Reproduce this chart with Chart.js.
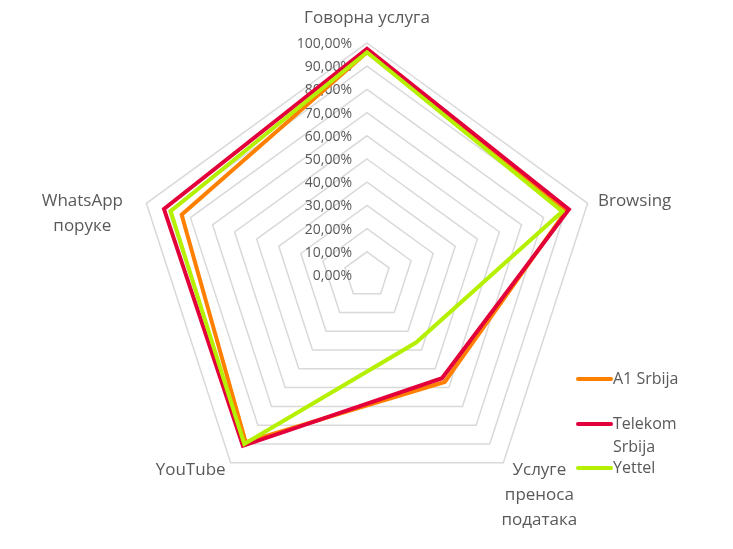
<!DOCTYPE html>
<html>
<head>
<meta charset="utf-8">
<script src="https://cdn.jsdelivr.net/npm/chart.js@4.4.1/dist/chart.umd.min.js"></script>
<style>
  html, body { margin: 0; padding: 0; background: #ffffff; }
  #wrap { width: 733px; height: 549px; }
</style>
</head>
<body>
<div id="wrap"><canvas id="myChart" width="733" height="549"></canvas></div>
<script>
// categories (multi-line labels as in the original)
var categories = [
  ["Говорна услуга"],
  ["Browsing"],
  ["Услуге", "преноса", "података"],
  ["YouTube"],
  ["WhatsApp", "поруке"]
];

// series values, percent
var a1Values = [96, 90.5, 57, 89, 84];
var telekomValues = [97.5, 91.5, 55, 91, 92];
var yettelValues = [96, 88.5, 36, 90, 89];

var seriesNames = ["A1 Srbija", "Telekom Srbija", "Yettel"];

// tick labels 0,00% .. 100,00%
var tickValues = [0, 10, 20, 30, 40, 50, 60, 70, 80, 90, 100];

window.onload = function() {
  var textColor = "#595959";
  var fontFamily = "'Open Sans', 'DejaVu Sans', sans-serif";
  var colors = ["#FF8000", "#E3003A", "#B4F000"];

  // where each category label sits, relative to its outer vertex
  var labelOffsets = [[0, -25], [47, -2], [36, 32], [-40, 7], [-64, 10]];

  function fmtPct(v) {
    return v.toFixed(2).replace(".", ",") + "%";
  }

  var radarText = {
    id: "radarText",
    beforeDatasetsDraw: function(chart) {
      var ctx = chart.ctx;
      var scale = chart.scales.r;
      ctx.save();
      ctx.fillStyle = textColor;

      // tick labels, left of the top axis
      ctx.font = "14px " + fontFamily;
      ctx.textAlign = "right";
      ctx.textBaseline = "middle";
      tickValues.forEach(function(v) {
        var p = scale.getPointPositionForValue(0, v);
        ctx.fillText(fmtPct(v), p.x - 15, p.y + 1);
      });

      // category labels
      ctx.font = "17px " + fontFamily;
      ctx.textAlign = "center";
      categories.forEach(function(lines, i) {
        var p = scale.getPointPosition(i, scale.drawingArea);
        var cx = p.x + labelOffsets[i][0];
        var cy = p.y + labelOffsets[i][1];
        var lh = 25;
        var y0 = cy - (lines.length - 1) * lh / 2;
        lines.forEach(function(t, j) {
          ctx.fillText(t, cx, y0 + j * lh);
        });
      });
      ctx.restore();
    },
    afterDraw: function(chart) {
      // legend, lower right
      var ctx = chart.ctx;
      var rows = [[["A1 Srbija"], 379], [["Telekom", "Srbija"], 424], [["Yettel"], 468]];
      ctx.save();
      ctx.font = "16px " + fontFamily;
      ctx.textAlign = "left";
      ctx.textBaseline = "middle";
      rows.forEach(function(r, i) {
        var y = r[1];
        ctx.strokeStyle = colors[i];
        ctx.lineWidth = 4;
        ctx.lineCap = "round";
        ctx.beginPath();
        ctx.moveTo(578, y);
        ctx.lineTo(611, y);
        ctx.stroke();
        ctx.fillStyle = textColor;
        r[0].forEach(function(t, j) {
          ctx.fillText(t, 613, y + j * 23);
        });
      });
      ctx.restore();
    }
  };

  var ctx = document.getElementById("myChart").getContext("2d");
  var chart = new Chart(ctx, {
    type: "radar",
    data: {
      labels: categories,
      datasets: [
        { label: seriesNames[0], data: a1Values, borderColor: colors[0], order: 2 },
        { label: seriesNames[1], data: telekomValues, borderColor: colors[1], order: 1 },
        { label: seriesNames[2], data: yettelValues, borderColor: colors[2], order: 0 }
      ]
    },
    options: {
      responsive: false,
      animation: false,
      devicePixelRatio: 1,
      layout: { padding: { left: 135, right: 133, top: 43, bottom: 41 } },
      elements: {
        line: { borderWidth: 4, tension: 0, fill: false, borderJoinStyle: "miter" },
        point: { radius: 0, hoverRadius: 0 }
      },
      plugins: {
        legend: { display: false },
        tooltip: { enabled: false }
      },
      scales: {
        r: {
          min: 0,
          max: 100,
          ticks: { stepSize: 10, display: false },
          grid: { circular: false, color: "#D9D9D9", lineWidth: 1.5 },
          angleLines: { display: false },
          pointLabels: { display: false }
        }
      }
    },
    plugins: [radarText]
  });
};
</script>
</body>
</html>
